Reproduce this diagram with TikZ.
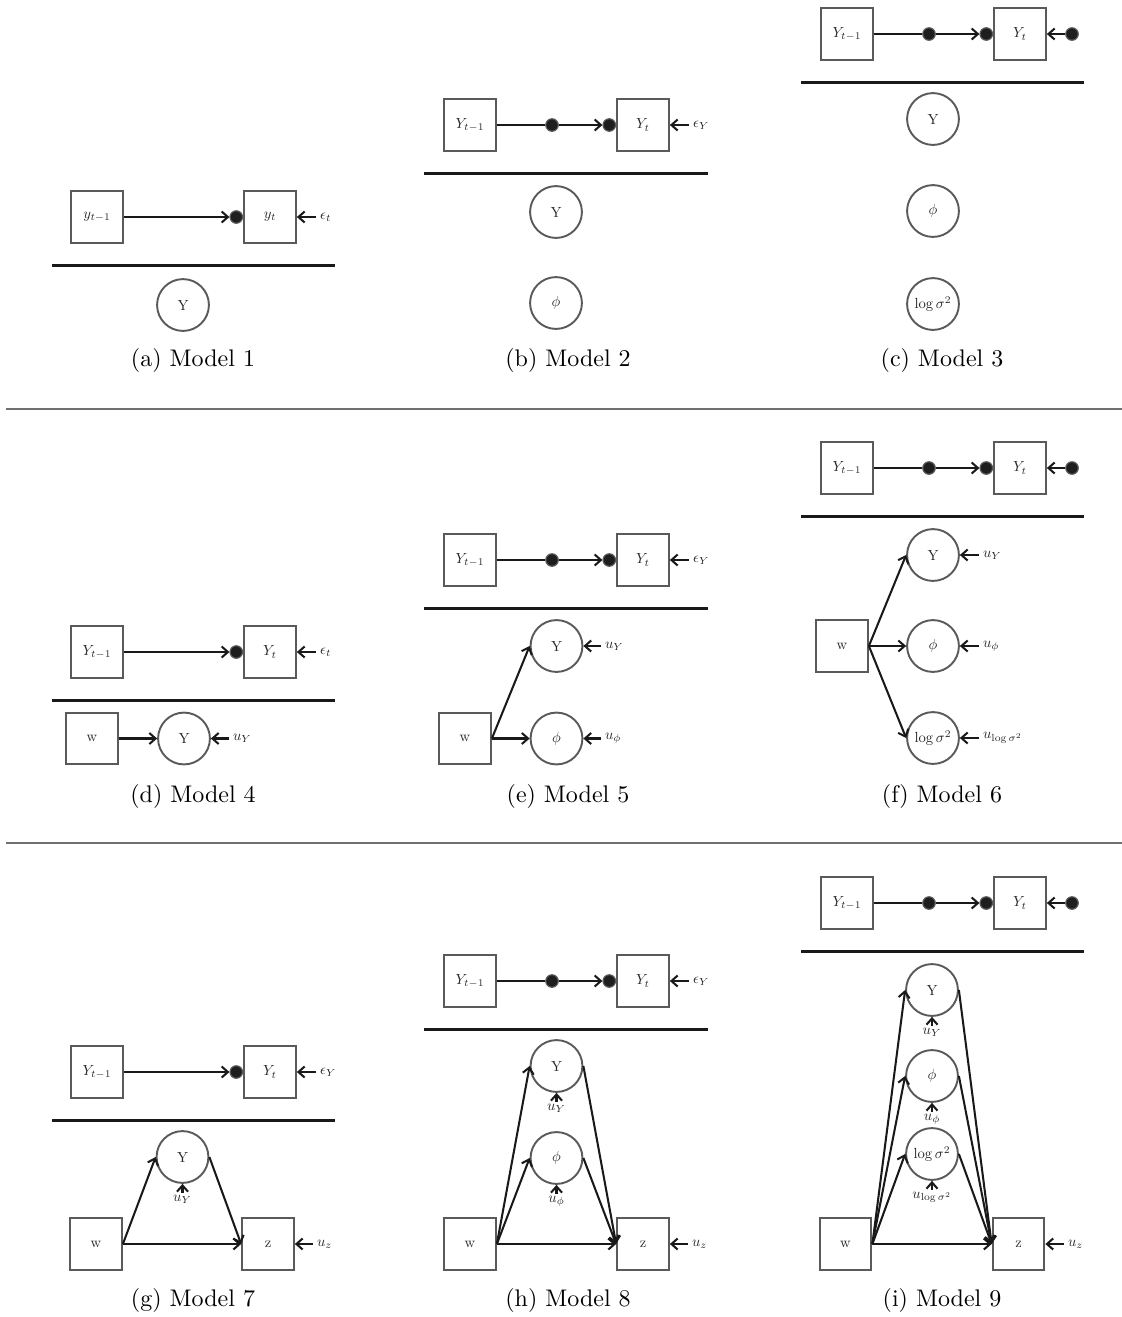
\documentclass[tikz,border=0pt]{standalone}
\usetikzlibrary{arrows.meta,calc}
\definecolor{framegray}{HTML}{5A5A5A}
\definecolor{dotblack}{HTML}{1E1E1E}
\definecolor{rulegray}{HTML}{707070}

% node labels: 10pt type reduced in size
\newcommand{\nt}[1]{\scalebox{0.61}{#1}}

% Lag row with one dot: y_{t-1} -> (dot) y_t <- error label
% #1 prefix, #2 row y, #3 left text, #4 right text, #5 error text
\newcommand{\lagrowA}[5]{%
  \node[box] (#1prev) at (97,#2) {\nt{$#3$}};
  \node[box] (#1cur) at (270,#2) {\nt{$#4$}};
  \node[dotn, anchor=east] (#1dot) at (#1cur.west) {};
  \node[lab, anchor=west] (#1err) at (316,#2) {\nt{$#5$}};
  \draw[arr] (#1prev.east) -- (#1dot.west);
  \draw[arr] (#1err.west) -- (#1cur.east);
  \draw[rulebar] (52,{#2+48.5}) -- (335,{#2+48.5});
}
% Lag row with two dots and an error label
\newcommand{\lagrowB}[2]{%
  \node[box] (#1prev) at (470,#2) {\nt{$Y_{t-1}$}};
  \node[box] (#1cur) at (643,#2) {\nt{$Y_t$}};
  \node[dotn] (#1mid) at (552,#2) {};
  \node[dotn, anchor=east] (#1dot) at (#1cur.west) {};
  \node[lab, anchor=west] (#1err) at (689,#2) {\nt{$\epsilon_Y$}};
  \draw[plainline] (#1prev.east) -- (#1mid.west);
  \draw[arr] (#1mid.east) -- (#1dot.west);
  \draw[arr] (#1err.west) -- (#1cur.east);
  \draw[rulebar] (424,{#2+48.5}) -- (708,{#2+48.5});
}
% Lag row with two dots and a dotted error term
\newcommand{\lagrowC}[2]{%
  \node[box] (#1prev) at (847,#2) {\nt{$Y_{t-1}$}};
  \node[box] (#1cur) at (1020,#2) {\nt{$Y_t$}};
  \node[dotn] (#1mid) at (929,#2) {};
  \node[dotn, anchor=east] (#1dot) at (#1cur.west) {};
  \node[dotn] (#1err) at (1072,#2) {};
  \draw[plainline] (#1prev.east) -- (#1mid.west);
  \draw[arr] (#1mid.east) -- (#1dot.west);
  \draw[arr] (#1err.west) -- (#1cur.east);
  \draw[rulebar] (801,{#2+48.5}) -- (1084,{#2+48.5});
}

\begin{document}
\begin{tikzpicture}[x=0.41667pt, y=-0.41667pt,
  box/.style={draw=framegray, line width=0.8pt, minimum size=21.6pt, inner sep=0pt, text=black!85},
  var/.style={circle, draw=framegray, line width=0.8pt, minimum size=21.6pt, inner sep=0pt, text=black!85},
  dotn/.style={circle, fill=dotblack, draw=framegray, line width=0.5pt, minimum size=5.2pt, inner sep=0pt},
  lab/.style={inner sep=1.5pt, text=black!85},
  sublab/.style={inner sep=0.6pt, anchor=north, text=black!85},
  arr/.style={draw=black!90, line width=0.85pt, -{Straight Barb[length=2.6pt,width=4.6pt]}},
  plainline/.style={draw=black!90, line width=0.85pt},
  rulebar/.style={draw=black!90, line width=0.85pt},
  sepline/.style={draw=rulegray, line width=0.45pt},
  captext/.style={font=\normalsize}]

\useasboundingbox (0,0) rectangle (1122,1317);

% ---------------- first row of panels ----------------
% (a)
\lagrowA{a}{217}{y_{t-1}}{y_t}{\epsilon_t}
\node[var] (aY) at (183,305) {\nt{Y}};
\node[captext] (acap) at (193,360) {(a) Model 1};

% (b)
\lagrowB{b}{125}
\node[var] (bY) at (556,212) {\nt{Y}};
\node[var] (bphi) at (556,303) {\nt{$\phi$}};
\node[captext] (bcap) at (568,360) {(b) Model 2};

% (c)
\lagrowC{c}{34}
\node[var] (cY) at (933,119) {\nt{Y}};
\node[var] (cphi) at (933,211) {\nt{$\phi$}};
\node[var] (csig) at (933,304) {\nt{$\log\sigma^2$}};
\node[captext] (ccap) at (942,360) {(c) Model 3};

\draw[sepline] (6,409) -- (1122,409);

% ---------------- second row of panels ----------------
% (d)
\lagrowA{d}{652}{Y_{t-1}}{Y_t}{\epsilon_t}
\node[box] (dw) at (92,738.5) {\nt{w}};
\node[var] (dY) at (184,738.5) {\nt{Y}};
\node[lab, anchor=west] (duY) at (229,738.5) {\nt{$u_Y$}};
\draw[arr] (dw.east) -- (dY.west);
\draw[arr] (duY.west) -- (dY.east);
\node[captext] (dcap) at (193,796) {(d) Model 4};

% (e)
\lagrowB{e}{560}
\node[box] (ew) at (465,738.5) {\nt{w}};
\node[var] (eY) at (556.5,646) {\nt{Y}};
\node[var] (ephi) at (556.5,738.5) {\nt{$\phi$}};
\node[lab, anchor=west] (euY) at (601,646) {\nt{$u_Y$}};
\node[lab, anchor=west] (euphi) at (601,738.5) {\nt{$u_\phi$}};
\draw[arr] (ew.east) -- (eY.west);
\draw[arr] (ew.east) -- (ephi.west);
\draw[arr] (euY.west) -- (eY.east);
\draw[arr] (euphi.west) -- (ephi.east);
\node[captext] (ecap) at (568,796) {(e) Model 5};

% (f)
\lagrowC{f}{468}
\node[box] (fw) at (842,646) {\nt{w}};
\node[var] (fY) at (933,555) {\nt{Y}};
\node[var] (fphi) at (933,646) {\nt{$\phi$}};
\node[var] (fsig) at (933,738) {\nt{$\log\sigma^2$}};
\node[lab, anchor=west] (fuY) at (979,555) {\nt{$u_Y$}};
\node[lab, anchor=west] (fuphi) at (979,646) {\nt{$u_\phi$}};
\node[lab, anchor=west] (fusig) at (979,738) {\nt{$u_{\log\sigma^2}$}};
\draw[arr] (fw.east) -- (fY.west);
\draw[arr] (fw.east) -- (fphi.west);
\draw[arr] (fw.east) -- (fsig.west);
\draw[arr] (fuY.west) -- (fY.east);
\draw[arr] (fuphi.west) -- (fphi.east);
\draw[arr] (fusig.west) -- (fsig.east);
\node[captext] (fcap) at (942,796) {(f) Model 6};

\draw[sepline] (6,843) -- (1122,843);

% ---------------- third row of panels ----------------
% (g)
\lagrowA{g}{1072}{Y_{t-1}}{Y_t}{\epsilon_Y}
\node[box] (gw) at (96,1244) {\nt{w}};
\node[box] (gz) at (268,1244) {\nt{z}};
\node[var] (gY) at (182.5,1157) {\nt{Y}};
\node[sublab] (guY) at ($(gY.south)+(0,9)$) {\nt{$u_Y$}};
\node[lab, anchor=west] (guz) at (313,1244) {\nt{$u_z$}};
\draw[arr] (gw.east) -- (gY.west);
\draw[arr] (gw.east) -- (gz.west);
\draw[arr] (gY.east) -- (gz.west);
\draw[arr] (guY.north) -- (gY.south);
\draw[arr] (guz.west) -- (gz.east);
\node[captext] (gcap) at (193,1300) {(g) Model 7};

% (h)
\lagrowB{h}{981}
\node[box] (hw) at (470,1244) {\nt{w}};
\node[box] (hz) at (643,1244) {\nt{z}};
\node[var] (hY) at (556.5,1066) {\nt{Y}};
\node[var] (hphi) at (556.5,1158) {\nt{$\phi$}};
\node[sublab] (huY) at ($(hY.south)+(0,9)$) {\nt{$u_Y$}};
\node[sublab] (huphi) at ($(hphi.south)+(0,9)$) {\nt{$u_\phi$}};
\node[lab, anchor=west] (huz) at (688,1244) {\nt{$u_z$}};
\draw[arr] (hw.east) -- (hY.west);
\draw[arr] (hw.east) -- (hphi.west);
\draw[arr] (hw.east) -- (hz.west);
\draw[arr] (hY.east) -- (hz.west);
\draw[arr] (hphi.east) -- (hz.west);
\draw[arr] (huY.north) -- (hY.south);
\draw[arr] (huphi.north) -- (hphi.south);
\draw[arr] (huz.west) -- (hz.east);
\node[captext] (hcap) at (568,1300) {(h) Model 8};

% (i)
\lagrowC{i}{903}
\node[box] (iw) at (845.5,1244) {\nt{w}};
\node[box] (iz) at (1018.5,1244) {\nt{z}};
\node[var] (iY) at (932,990) {\nt{Y}};
\node[var] (iphi) at (932,1076) {\nt{$\phi$}};
\node[var] (isig) at (932,1154) {\nt{$\log\sigma^2$}};
\node[sublab] (iuY) at ($(iY.south)+(0,9)$) {\nt{$u_Y$}};
\node[sublab] (iuphi) at ($(iphi.south)+(0,9)$) {\nt{$u_\phi$}};
\node[sublab] (iusig) at ($(isig.south)+(0,9)$) {\nt{$u_{\log\sigma^2}$}};
\node[lab, anchor=west] (iuz) at (1064,1244) {\nt{$u_z$}};
\draw[arr] (iw.east) -- (iY.west);
\draw[arr] (iw.east) -- (iphi.west);
\draw[arr] (iw.east) -- (isig.west);
\draw[arr] (iw.east) -- (iz.west);
\draw[arr] (iY.east) -- (iz.west);
\draw[arr] (iphi.east) -- (iz.west);
\draw[arr] (isig.east) -- (iz.west);
\draw[arr] (iuY.north) -- (iY.south);
\draw[arr] (iuphi.north) -- (iphi.south);
\draw[arr] (iusig.north) -- (isig.south);
\draw[arr] (iuz.west) -- (iz.east);
\node[captext] (icap) at (942,1300) {(i) Model 9};

\end{tikzpicture}
\end{document}
